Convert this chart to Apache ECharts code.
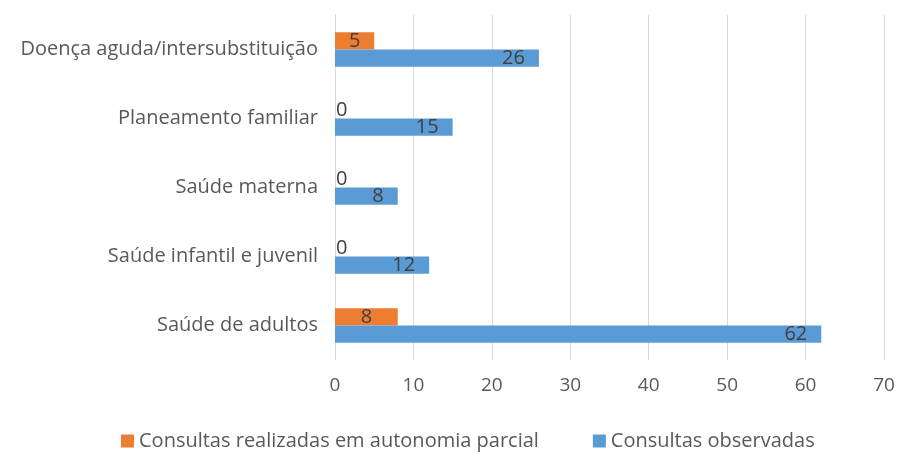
<!DOCTYPE html>
<html>
<head>
<meta charset="utf-8">
<script src="https://cdn.jsdelivr.net/npm/echarts@6/dist/echarts.min.js"></script>
<style>
  html, body { margin: 0; padding: 0; background: #fff; }
  #chart { width: 898px; height: 453px; }
</style>
</head>
<body>
<div id="chart"></div>
<script>
const categories = [
  'Doença aguda/intersubstituição',
  'Planeamento familiar',
  'Saúde materna',
  'Saúde infantil e juvenil',
  'Saúde de adultos'
]
const autonomiaParcial = [5, 0, 0, 0, 8]
const observadas = [26, 15, 8, 12, 62]
const xTicks = { min: 0, max: 70, interval: 10 }

const font = '"Open Sans", sans-serif'
const chart = echarts.init(document.getElementById('chart'))

chart.setOption({
  animation: false,
  textStyle: { fontFamily: font },
  grid: { left: 335, right: 14, top: 15, bottom: 93, containLabel: false },
  legend: {
    top: 426,
    left: 116,
    itemWidth: 13,
    itemHeight: 13,
    itemGap: 54,
    icon: 'rect',
    textStyle: { color: '#595959', fontSize: 20, fontFamily: font },
    data: ['Consultas realizadas em autonomia parcial', 'Consultas observadas']
  },
  xAxis: {
    type: 'value',
    min: xTicks.min,
    max: xTicks.max,
    interval: xTicks.interval,
    axisLine: { show: false },
    axisTick: { show: false },
    axisLabel: { color: '#595959', fontSize: 19, margin: 16 },
    splitLine: { show: true, lineStyle: { color: '#d9d9d9', width: 1 } }
  },
  yAxis: {
    type: 'category',
    inverse: true,
    data: categories,
    axisLine: { show: true, lineStyle: { color: '#d9d9d9' } },
    axisTick: { show: false },
    axisLabel: { color: '#595959', fontSize: 20, margin: 17 }
  },
  series: [
    {
      name: 'Consultas realizadas em autonomia parcial',
      type: 'bar',
      barGap: '0%',
      barCategoryGap: '50%',
      itemStyle: { color: '#ed7d31' },
      label: { show: true, position: 'inside', color: '#404040', fontSize: 20 },
      data: autonomiaParcial.map(v => v === 0
        ? { value: v, label: { position: 'right', distance: 1 } }
        : v)
    },
    {
      name: 'Consultas observadas',
      type: 'bar',
      itemStyle: { color: '#5b9bd5' },
      label: { show: true, position: 'insideRight', distance: 14, color: '#404040', fontSize: 20 },
      data: observadas
    }
  ]
})
</script>
</body>
</html>
